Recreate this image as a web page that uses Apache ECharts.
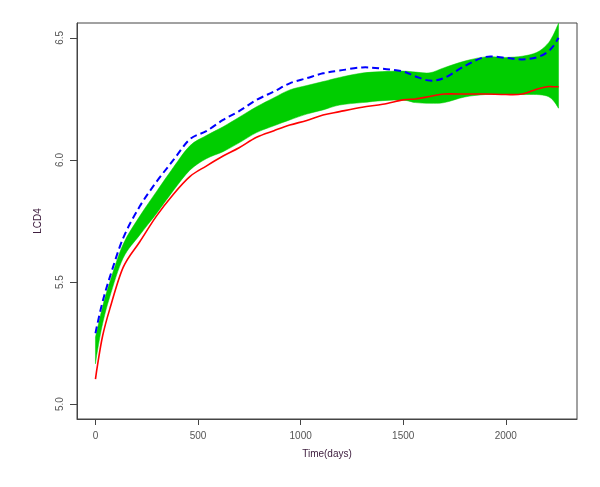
<!DOCTYPE html>
<html><head><meta charset="utf-8">
<script src="https://cdn.jsdelivr.net/npm/echarts@6/dist/echarts.min.js"></script>
<style>html,body{margin:0;padding:0;background:#fff}#c{width:600px;height:487px}</style>
</head><body><div id="c"></div>
<script>
const days = [0,10,35,70,135,216,297,380,460,540,622,700,785,870,947,1030,1109,1190,1300,1400,1500,1560,1630,1700,1800,1900,2000,2080,2150,2200,2230,2257];
const blueDashed = [5.29,5.33,5.42,5.52,5.68,5.81,5.91,6.00,6.085,6.118,6.164,6.20,6.246,6.28,6.314,6.335,6.355,6.366,6.379,6.374,6.362,6.342,6.325,6.336,6.385,6.422,6.418,6.412,6.42,6.44,6.465,6.50];
const bandUpper = [5.275,5.31,5.40,5.50,5.655,5.77,5.87,5.97,6.058,6.10,6.136,6.175,6.218,6.255,6.287,6.305,6.321,6.338,6.356,6.362,6.364,6.36,6.357,6.378,6.405,6.422,6.42,6.425,6.44,6.472,6.51,6.56];
const bandLower = [5.165,5.22,5.33,5.44,5.598,5.693,5.78,5.875,5.958,6.005,6.034,6.07,6.112,6.14,6.164,6.188,6.205,6.225,6.235,6.243,6.245,6.235,6.232,6.235,6.258,6.268,6.27,6.268,6.268,6.262,6.245,6.212];
const redLine = [5.102,5.16,5.28,5.39,5.56,5.665,5.77,5.86,5.932,5.975,6.016,6.05,6.093,6.12,6.143,6.162,6.184,6.198,6.216,6.228,6.246,6.25,6.26,6.27,6.27,6.27,6.268,6.27,6.29,6.30,6.30,6.30];
const xTicks = [0,500,1000,1500,2000];
const yTicks = [5.0,5.5,6.0,6.5];
const xTitle = 'Time(days)';
const yTitle = 'LCD4';

const bandData = days.map((d,i)=>[d, bandLower[i], bandUpper[i]]);
const font = 'Liberation Sans, Arial, sans-serif';
const X_MIN = -90, X_MAX = 2347;

// Catmull-Rom spline through pixel points -> path commands
function splineCmds(p, startMove){
  let s = startMove ? `M${p[0][0]},${p[0][1]}` : `L${p[0][0]},${p[0][1]}`;
  for (let i=0;i<p.length-1;i++){
    const p0 = p[Math.max(0,i-1)], p1 = p[i], p2 = p[i+1], p3 = p[Math.min(p.length-1,i+2)];
    const c1 = [p1[0]+(p2[0]-p0[0])/6, p1[1]+(p2[1]-p0[1])/6];
    const c2 = [p2[0]-(p3[0]-p1[0])/6, p2[1]-(p3[1]-p1[1])/6];
    s += ` C${c1[0]},${c1[1]} ${c2[0]},${c2[1]} ${p2[0]},${p2[1]}`;
  }
  return s;
}
function makeLineSeries(name, ys, style, z){
  return {type:'custom', name, data: days.map((d,i)=>[d, ys[i]]), z, silent:true,
    encode:{x:0, y:1},
    renderItem:function(params, api){
      if (params.dataIndex !== 0) return null;
      const pts = days.map((d,i)=>api.coord([d, ys[i]]));
      const cs = params.coordSys;
      return {type:'path', shape:{pathData:splineCmds(pts,true)},
        style:Object.assign({fill:null}, style),
        clipPath:{type:'rect', shape:{x:cs.x, y:cs.y, width:cs.width, height:cs.height}}};
    }};
}

const chart = echarts.init(document.getElementById('c'), null, {renderer:'canvas'});
chart.setOption({
  animation:false,
  backgroundColor:'#fff',
  grid:{left:77, right:23, top:23, bottom:68, show:true, borderColor:'#444', borderWidth:1, backgroundColor:'transparent'},
  xAxis:{type:'value', min:X_MIN, max:X_MAX, position:'bottom',
    name:xTitle, nameLocation:'middle', nameGap:30,
    nameTextStyle:{color:'#402040', fontSize:10, fontFamily:font},
    axisLine:{show:true, onZero:false, lineStyle:{color:'#444', width:1}}, splitLine:{show:false},
    axisTick:{show:true, customValues:xTicks, length:6, inside:false, lineStyle:{color:'#444'}},
    axisLabel:{customValues:xTicks, margin:12, color:'#555', fontSize:10, fontFamily:font, formatter:(v)=>String(v)}
  },
  yAxis:{type:'value', min:4.939, max:6.561, position:'left',
    name:yTitle, nameLocation:'middle', nameGap:34, nameRotate:90,
    nameTextStyle:{color:'#402040', fontSize:10, fontFamily:font},
    axisLine:{show:true, onZero:false, lineStyle:{color:'#444', width:1}}, splitLine:{show:false},
    axisTick:{show:true, customValues:yTicks, length:7, inside:false, lineStyle:{color:'#444', width:1}},
    axisLabel:{customValues:yTicks, margin:12, rotate:90, color:'#555', fontSize:10, fontFamily:font,
      formatter:(v)=>v.toFixed(1)}
  },
  series:[
    {type:'custom', name:'band', data:bandData, silent:true, z:1,
      encode:{x:0, y:[1,2]},
      renderItem:function(params, api){
        if (params.dataIndex !== 0) return null;
        const top = bandData.map(r=>api.coord([r[0], r[2]]));
        const bot = bandData.map(r=>api.coord([r[0], r[1]])).reverse();
        const path = splineCmds(top,true) + ' ' + splineCmds(bot,false) + ' Z';
        const cs = params.coordSys;
        return {type:'path', shape:{pathData:path},
          style:{fill:'#00CD00', stroke:'#00CD00', lineWidth:0.5},
          clipPath:{type:'rect', shape:{x:cs.x, y:cs.y, width:cs.width, height:cs.height}}};
      }},
    makeLineSeries('red', redLine, {stroke:'#FF0000', lineWidth:1.6}, 3),
    makeLineSeries('blue', blueDashed, {stroke:'#0000FF', lineWidth:2, lineDash:[7,4]}, 4),
    {type:'custom', name:'yTickMarks', data:yTicks.map(v=>[0, v]), silent:true, z:5, clip:false,
      encode:{x:0, y:1},
      renderItem:function(params, api){
        if (params.dataIndex !== 0) return null;
        const cs = params.coordSys;
        let d = '';
        yTicks.forEach(v=>{
          const y = Math.round(api.coord([0, v])[1]) + 0.5;
          d += `M${cs.x-7},${y} L${cs.x},${y} `;
        });
        return {type:'path', shape:{pathData:d}, style:{fill:null, stroke:'#444', lineWidth:1}};
      }}
  ]
});
</script>
</body></html>
